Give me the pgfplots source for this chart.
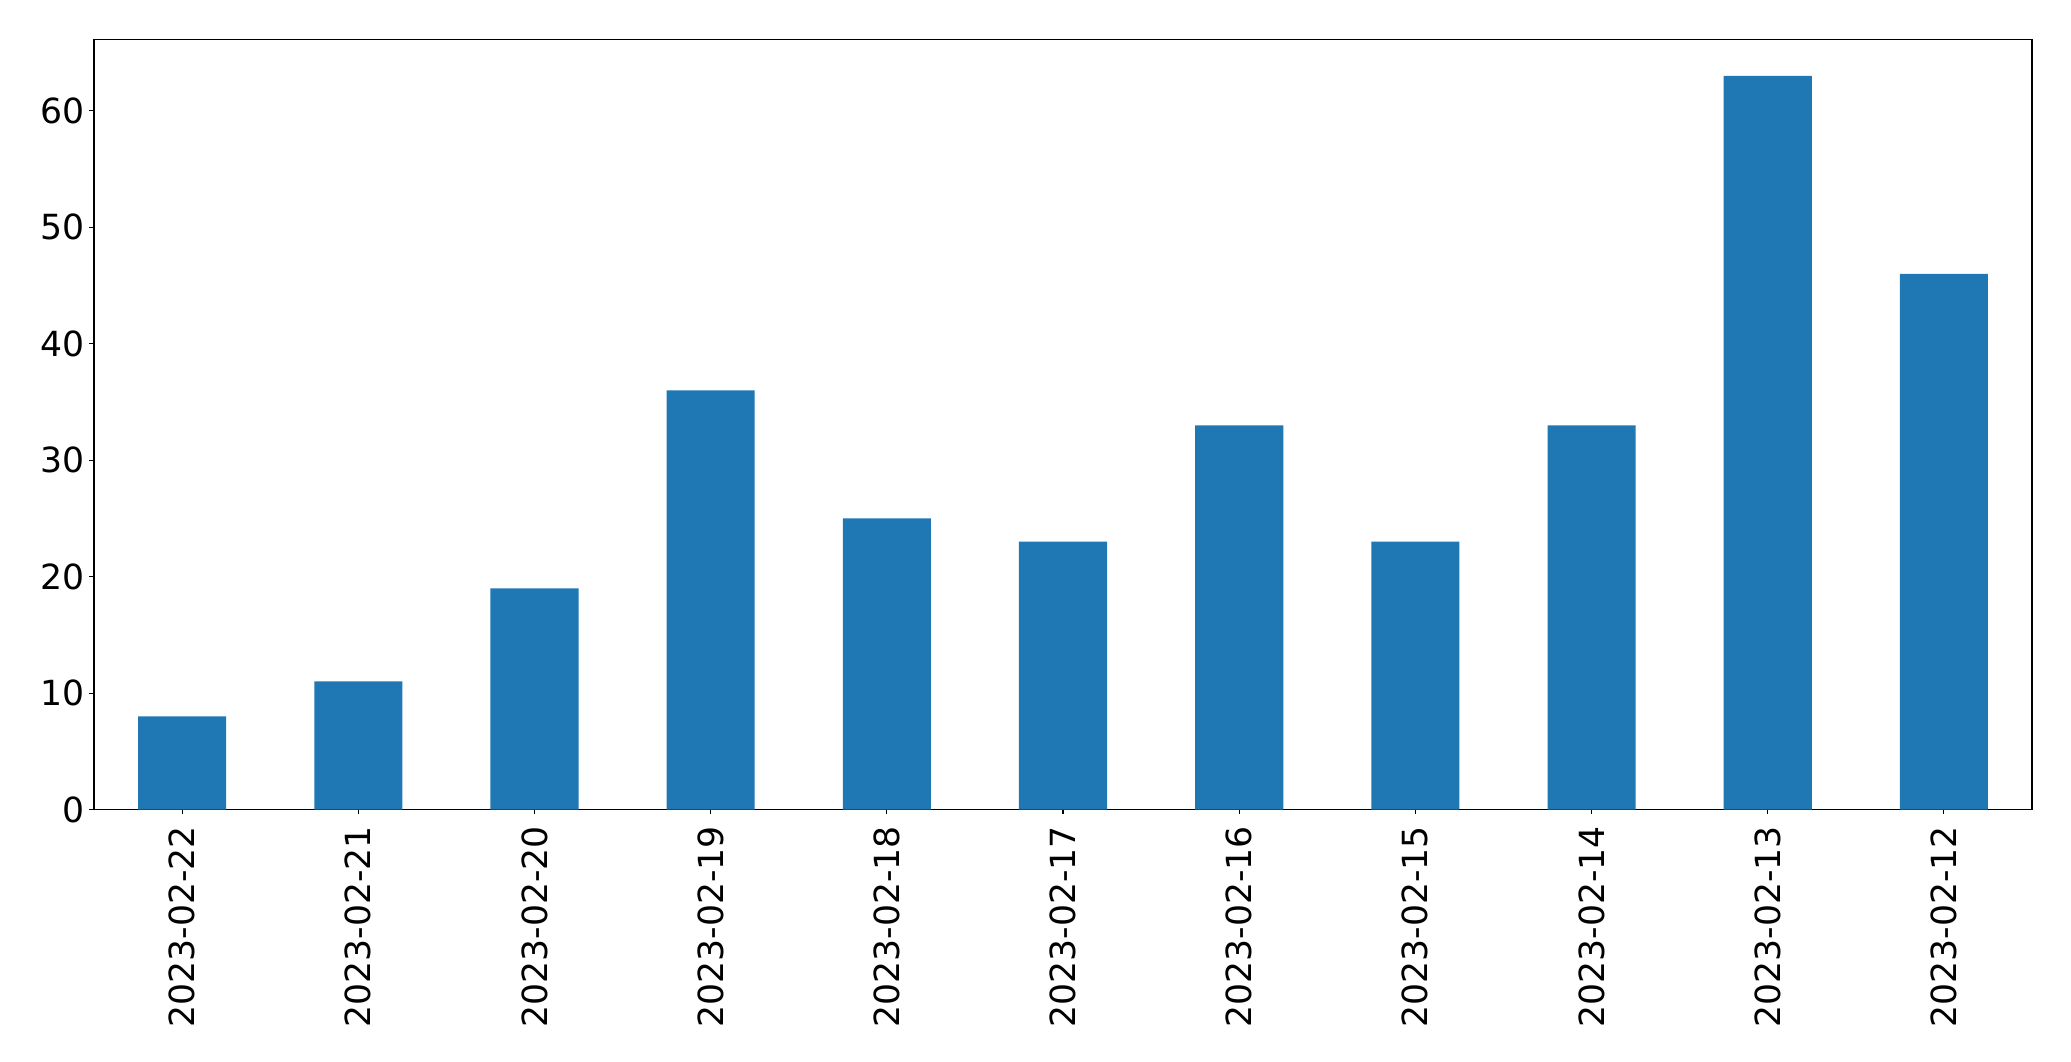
\documentclass[border=0pt]{standalone}
\usepackage{fontspec}
\setmainfont{DejaVu Sans}
\usepackage{pgfplots}
\pgfplotsset{compat=1.18}
\definecolor{barblue}{HTML}{1F77B4}
\begin{document}
\begin{tikzpicture}
\begin{axis}[
  name=ax,
  scale only axis,
  width=968.5pt, height=385pt,
  xmin=-0.5, xmax=10.5,
  ymin=0, ymax=66.15,
  xtick={0,...,10},
  xticklabels={2023-02-22,2023-02-21,2023-02-20,2023-02-19,2023-02-18,2023-02-17,2023-02-16,2023-02-15,2023-02-14,2023-02-13,2023-02-12},
  x tick label style={yshift=-6pt, rotate=90, anchor=east, inner sep=0pt, outer sep=0pt, font=\fontsize{17.3}{20}\selectfont},
  ytick={0,10,20,30,40,50,60},
  y tick label style={xshift=1pt, font=\fontsize{17.3}{20}\selectfont},
  /pgf/number format/assume math mode=true,
  tick align=outside,
  tickpos=left,
  major tick length=2.35pt,
  every tick/.style={black, line width=0.55pt},
  axis line style={line width=0.55pt},
]
\addplot[ybar, bar width=0.5, fill=barblue, draw=none, bar shift=0pt] coordinates {
(0,8) (1,11) (2,19) (3,36) (4,25) (5,23) (6,33) (7,23) (8,33) (9,63) (10,46)
};
\end{axis}
\path ([xshift=-47pt,yshift=-126pt]ax.south west) rectangle ([xshift=19.5pt,yshift=19.6pt]ax.north east);
\end{tikzpicture}
\end{document}
